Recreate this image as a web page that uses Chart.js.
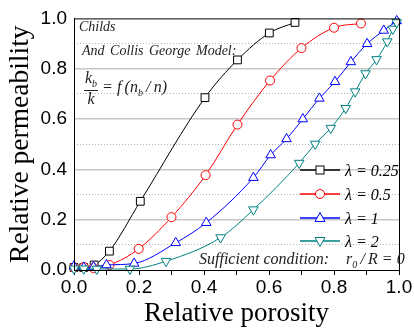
<!DOCTYPE html>
<html>
<head>
<meta charset="utf-8">
<script src="https://cdn.jsdelivr.net/npm/chart.js@4/dist/chart.umd.min.js"></script>
<style>
  html, body { margin: 0; padding: 0; background: #fff; }
  #wrap { position: relative; width: 414px; height: 333px; }
  .ann { position: absolute; font-family: "Liberation Serif", "Times New Roman", serif; font-style: italic; color: #222; white-space: nowrap; line-height: 1; }
  .frac { display: inline-block; vertical-align: middle; text-align: center; }
  .frac span { display: block; line-height: 1.05; }
  .frac .num { border-bottom: 1px solid #222; padding: 0 1px; }
  .leg { position: absolute; left: 300px; width: 110px; height: 18px; }
  .leg svg { position: absolute; left: 0; top: 0; }
  .leg .t { position: absolute; left: 45px; top: 1px; font-family: "Liberation Serif", serif; font-style: italic; font-size: 16px; }
</style>
</head>
<body>
<div id="wrap">
  <canvas id="chart" width="414" height="333"></canvas>

  <div class="ann" style="left:79px; top:20px; font-size:14px;">Childs</div>
  <div class="ann" style="left:82px; top:44px; font-size:14px; word-spacing:2px;">And Collis George Model:</div>
  <div class="ann" style="left:84px; top:70px; font-size:16px;">
    <span class="frac"><span class="num">k<sub style="font-size:10px">b</sub></span><span>k</span></span>
    <span style="vertical-align:middle">= f&thinsp;(n<sub style="font-size:10px">b</sub>&thinsp;/&thinsp;n)</span>
  </div>

  <div class="leg" style="top:161px;">
    <svg width="45" height="18"><line x1="0" y1="9" x2="40" y2="9" stroke="#000" stroke-width="1.5"/><rect x="16" y="5" width="8" height="8" fill="#fff" stroke="#000"/></svg>
    <div class="t">λ = 0.25</div>
  </div>
  <div class="leg" style="top:185px;">
    <svg width="45" height="18"><line x1="0" y1="9" x2="40" y2="9" stroke="#f00" stroke-width="1.5"/><circle cx="20" cy="9" r="4.5" fill="#fff" stroke="#f00"/></svg>
    <div class="t">λ = 0.5</div>
  </div>
  <div class="leg" style="top:209px;">
    <svg width="45" height="18"><line x1="0" y1="9" x2="40" y2="9" stroke="#00f" stroke-width="1.5"/><polygon points="20,3.5 25,12.5 15,12.5" fill="#fff" stroke="#00f"/></svg>
    <div class="t">λ = 1</div>
  </div>
  <div class="leg" style="top:232px;">
    <svg width="45" height="18"><line x1="0" y1="9" x2="40" y2="9" stroke="#008080" stroke-width="1.5"/><polygon points="20,14.5 25,5.5 15,5.5" fill="#fff" stroke="#008080"/></svg>
    <div class="t">λ = 2</div>
  </div>

  <div class="ann" style="left:199px; top:251px; font-size:16px;">Sufficient condition:</div>
  <div class="ann" style="left:346px; top:251px; font-size:16px;">r<sub style="font-size:10px">0</sub>&thinsp;/&thinsp;R = 0</div>
</div>

<script>
// lambda = 0.25
const porosity025 = [0, 0.03, 0.062, 0.109, 0.204, 0.403, 0.503, 0.601, 0.68];
const perm025 = [0.01, 0.01, 0.02, 0.075, 0.273, 0.685, 0.835, 0.942, 0.984];

// lambda = 0.5
const porosity05 = [0, 0.03, 0.06, 0.109, 0.199, 0.30, 0.405, 0.503, 0.603, 0.70, 0.80, 0.883];
const perm05 = [0.01, 0.012, 0.008, 0.02, 0.084, 0.21, 0.377, 0.578, 0.753, 0.882, 0.963, 0.98];

// lambda = 1
const porosity1 = [0, 0.03, 0.06, 0.1, 0.185, 0.313, 0.407, 0.552, 0.605, 0.654, 0.704, 0.755, 0.803, 0.852, 0.902, 0.953, 0.993];
const perm1 = [0.015, 0.01, 0.012, 0.02, 0.026, 0.108, 0.188, 0.367, 0.457, 0.521, 0.60, 0.682, 0.748, 0.827, 0.899, 0.952, 0.99];

// lambda = 2
const porosity2 = [0, 0.03, 0.07, 0.172, 0.283, 0.451, 0.552, 0.693, 0.742, 0.79, 0.836, 0.865, 0.897, 0.931, 0.964, 0.981, 0.993];
const perm2 = [0.005, 0.005, 0.004, 0.004, 0.035, 0.129, 0.24, 0.425, 0.501, 0.564, 0.643, 0.709, 0.781, 0.837, 0.908, 0.958, 0.984];

// major ticks get labels, minor ones only a tick mark
const xTicks = [0, 0.1, 0.2, 0.3, 0.4, 0.5, 0.6, 0.7, 0.8, 0.9, 1.0];

function pts(xs, ys) {
    return xs.map((x, i) => ({ x: x, y: ys[i] }));
}

function series(xs, ys, color, style, radius, rotation) {
    return {
        data: pts(xs, ys),
        borderColor: color,
        borderWidth: 1,
        backgroundColor: '#fff',
        pointStyle: style,
        pointRadius: radius,
        pointRotation: rotation || 0,
        pointBorderColor: color,
        pointBorderWidth: 1,
        pointBackgroundColor: '#fff',
        cubicInterpolationMode: 'monotone',
        fill: false,
        clip: false
    };
}

// draws the box around the plot area
const framePlugin = {
    id: 'frame',
    afterDatasetsDraw(chart) {
        const a = chart.chartArea;
        const ctx = chart.ctx;
        ctx.save();
        ctx.strokeStyle = '#000';
        ctx.lineWidth = 1;
        ctx.strokeRect(a.left + 0.5, a.top + 0.5, a.right - a.left, a.bottom - a.top);
        ctx.restore();
    }
};

new Chart(document.getElementById('chart').getContext('2d'), {
    type: 'line',
    data: {
        datasets: [
            series(porosity2, perm2, '#008080', 'triangle', 5.5, 180),
            series(porosity1, perm1, '#0000ff', 'triangle', 5.5, 0),
            series(porosity05, perm05, '#ff0000', 'circle', 4.5, 0),
            series(porosity025, perm025, '#000000', 'rect', 5.5, 0)
        ]
    },
    plugins: [framePlugin],
    options: {
        responsive: false,
        animation: false,
        events: [],
        layout: { padding: { top: 16, right: 15, left: 0, bottom: 0 } },
        plugins: {
            legend: { display: false },
            tooltip: { enabled: false }
        },
        scales: {
            x: {
                type: 'linear',
                min: 0,
                max: 1,
                afterFit: s => { s.height = 63; },
                afterBuildTicks: s => { s.ticks = xTicks.map(v => ({ value: v })); },
                grid: { drawOnChartArea: false, drawTicks: true, tickLength: 5, color: '#000' },
                border: { color: '#000' },
                ticks: {
                    color: '#000',
                    padding: 1,
                    maxRotation: 0,
                    autoSkip: false,
                    font: { family: 'Liberation Sans', size: 19 },
                    callback: v => (Math.round(v * 10) % 2 === 0) ? v.toFixed(1) : ''
                },
                title: {
                    display: true,
                    text: 'Relative porosity',
                    color: '#000',
                    font: { family: 'Liberation Serif', size: 27 },
                    padding: { top: 0, bottom: 3 }
                }
            },
            y: {
                min: 0,
                max: 1,
                afterFit: s => { s.width = 74; },
                ticks: {
                    stepSize: 0.2,
                    color: '#000',
                    padding: 7,
                    font: { family: 'Liberation Sans', size: 19 },
                    callback: v => v.toFixed(1)
                },
                grid: {
                    drawTicks: false,
                    lineWidth: 1.5,
                    color: c => (c.tick && c.tick.value > 0 && c.tick.value < 1) ? '#c8c8c8' : 'rgba(0,0,0,0)'
                },
                border: { color: '#000' },
                title: {
                    display: true,
                    text: 'Relative permeability',
                    color: '#000',
                    font: { family: 'Liberation Serif', size: 27.5 },
                    padding: { top: 4, bottom: 0 }
                }
            },
            yMinor: {
                position: 'right',
                min: 0,
                max: 1,
                afterFit: s => { s.width = 0; },
                ticks: { display: false, stepSize: 0.1 },
                grid: {
                    drawTicks: false,
                    lineWidth: 1,
                    color: c => {
                        const v = Math.round((c.tick ? c.tick.value : 0) * 10);
                        return (v % 2 === 1) ? '#b4b4b4' : 'rgba(0,0,0,0)';
                    }
                },
                border: { display: false, dash: [1, 2] }
            }
        }
    }
});
</script>
</body>
</html>
